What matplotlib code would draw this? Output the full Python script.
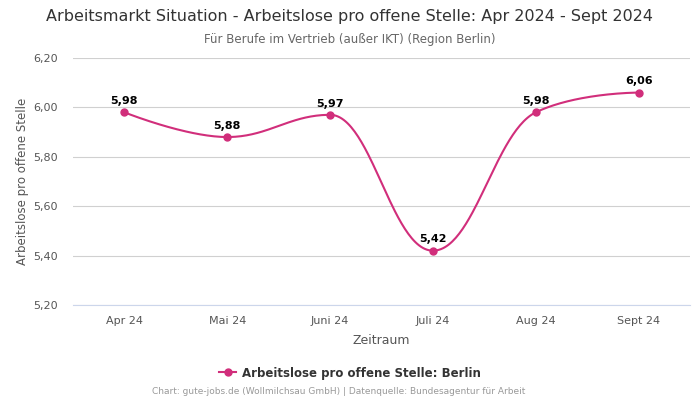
import numpy as np
import matplotlib
matplotlib.use("Agg")
import matplotlib.pyplot as plt
from matplotlib.lines import Line2D

categories = ["Apr 24", "Mai 24", "Juni 24", "Juli 24", "Aug 24", "Sept 24"]
values = [5.98, 5.88, 5.97, 5.42, 5.98, 6.06]
labels = ["5,98", "5,88", "5,97", "5,42", "5,98", "6,06"]
yticks = [5.20, 5.40, 5.60, 5.80, 6.00, 6.20]
ytick_labels = ["5,20", "5,40", "5,60", "5,80", "6,00", "6,20"]

color = "#d12e7b"

def spline(xs, ys, smoothing=1.5, n=60):
    m = len(xs)
    lc = [None]*m
    rc = [None]*m
    for i in range(m):
        if i == 0 or i == m-1:
            lc[i] = (xs[i], ys[i]); rc[i] = (xs[i], ys[i]); continue
        d = smoothing + 1
        lx = (smoothing*xs[i] + xs[i-1]) / d
        ly = (smoothing*ys[i] + ys[i-1]) / d
        rx = (smoothing*xs[i] + xs[i+1]) / d
        ry = (smoothing*ys[i] + ys[i+1]) / d
        if rx != lx:
            corr = ((ry - ly)*(rx - xs[i]))/(rx - lx) + ys[i] - ry
            ly += corr; ry += corr
        py, lasty, nexty = ys[i], ys[i-1], ys[i+1]
        if ly > lasty and ly > py:
            ly = max(lasty, py); ry = 2*py - ly
        elif ly < lasty and ly < py:
            ly = min(lasty, py); ry = 2*py - ly
        if ry > nexty and ry > py:
            ry = max(nexty, py); ly = 2*py - ry
        elif ry < nexty and ry < py:
            ry = min(nexty, py); ly = 2*py - ry
        lc[i] = (lx, ly); rc[i] = (rx, ry)
    X, Y = [], []
    t = np.linspace(0, 1, n)
    for i in range(1, m):
        p0 = np.array([xs[i-1], ys[i-1]]); p1 = np.array(rc[i-1])
        p2 = np.array(lc[i]); p3 = np.array([xs[i], ys[i]])
        pts = ((1-t)**3)[:, None]*p0 + (3*(1-t)**2*t)[:, None]*p1 + (3*(1-t)*t**2)[:, None]*p2 + (t**3)[:, None]*p3
        X.extend(pts[:, 0]); Y.extend(pts[:, 1])
    return np.array(X), np.array(Y)

fig = plt.figure(figsize=(7, 4), dpi=100)
ax = fig.add_axes([73/700, 1-305/400, 617/700, 247/400])

x = np.arange(len(categories))
sx, sy = spline(list(x.astype(float)), values)
ax.plot(sx, sy, color=color, lw=1.5, zorder=3)
ax.plot(x, values, "o", color=color, ms=5, zorder=4)
for xi, v, lab in zip(x, values, labels):
    ax.annotate(lab, (xi, v), xytext=(0, 4.5), textcoords="offset points",
                ha="center", va="bottom", fontsize=8, fontweight="bold", color="#000000")

ax.set_xlim(-0.5, len(categories)-0.5)
ax.set_ylim(5.20, 6.20)
ax.set_yticks(yticks)
ax.set_yticklabels(ytick_labels)
ax.set_xticks(x)
ax.set_xticklabels(categories)
ax.tick_params(axis="both", length=0, labelsize=8, labelcolor="#555555")
ax.tick_params(axis="y", pad=11)
ax.tick_params(axis="x", pad=8)
ax.grid(axis="y", color="#d0d0d0", lw=0.8)
ax.set_axisbelow(True)
for s in ["top", "right", "left"]:
    ax.spines[s].set_visible(False)
ax.spines["bottom"].set_color("#ccd6eb")
ax.set_xlabel("Zeitraum", fontsize=9, color="#555555", labelpad=6)
ax.set_ylabel("Arbeitslose pro offene Stelle", fontsize=8.5, color="#555555", labelpad=3)

fig.text(0.5, 1-17/400, "Arbeitsmarkt Situation - Arbeitslose pro offene Stelle: Apr 2024 - Sept 2024",
         ha="center", va="center", fontsize=11.5, color="#333333")
fig.text(0.5, 1-39/400, "Für Berufe im Vertrieb (außer IKT) (Region Berlin)",
         ha="center", va="center", fontsize=8.5, color="#666666")

handle = Line2D([0], [0], color=color, lw=1.5, marker="o", ms=5)
fig.legend([handle], ["Arbeitslose pro offene Stelle: Berlin"], loc="center",
           bbox_to_anchor=(0.5, 1-373/400), frameon=False,
           prop={"size": 8.5, "weight": "bold"}, labelcolor="#333333",
           handlelength=1.4, handletextpad=0.5)
fig.text(339/700, 1-392/400, "Chart: gute-jobs.de (Wollmilchsau GmbH) | Datenquelle: Bundesagentur für Arbeit",
         ha="center", va="center", fontsize=6.5, color="#999999")

fig.savefig("out.png", dpi=100)
